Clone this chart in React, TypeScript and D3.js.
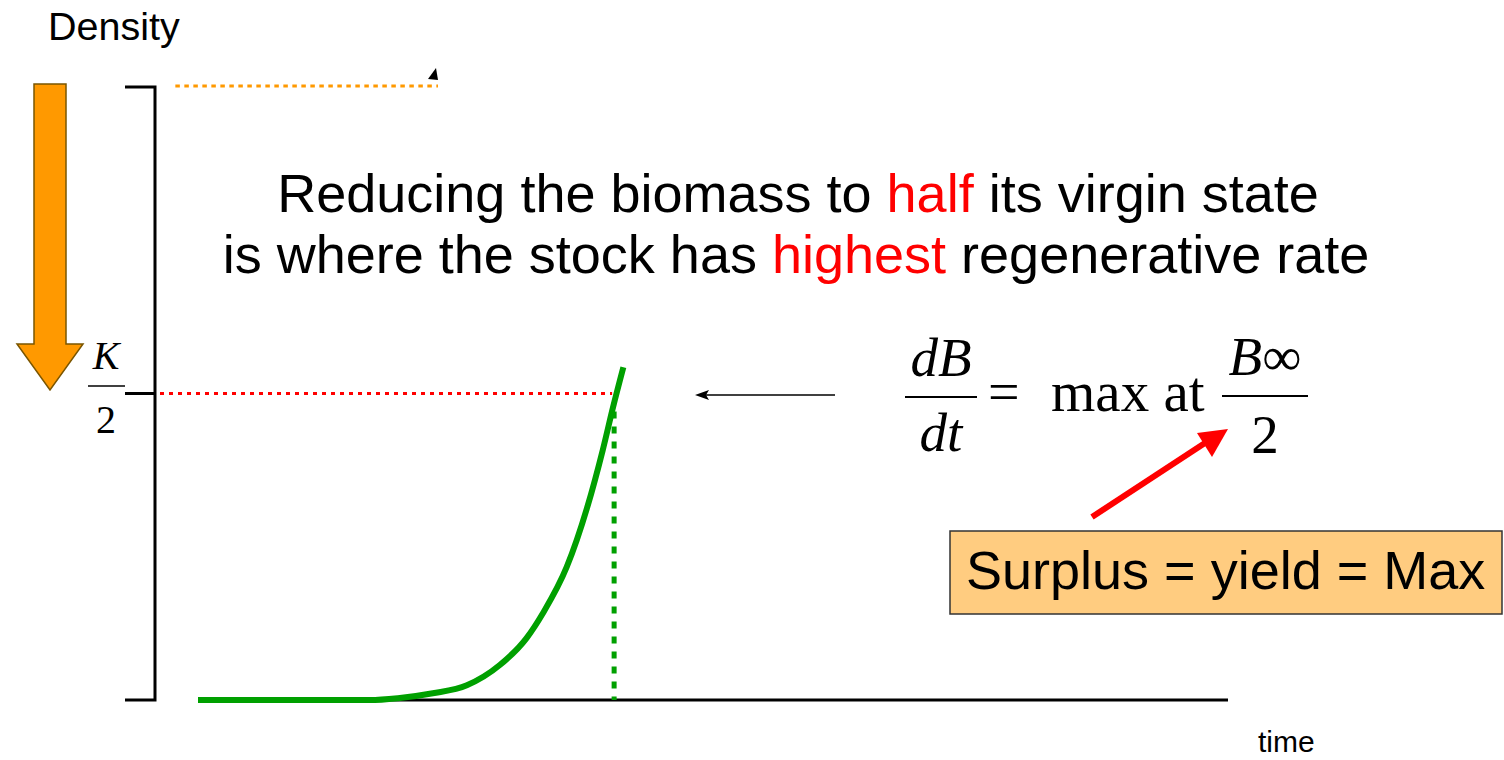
import React from "react";
import * as d3 from "d3";

// Growth curve (time, density); K = 1000
const curveTime = [0, 16.7, 19.4, 22.8, 26.1, 29.3, 31.9, 33.5, 35.8, 37.8, 39.3, 40.3, 41.3];
const curveDensity = [0, 0, 3, 11, 24, 57, 101, 142, 217, 315, 408, 478, 543];

const K = 1000;
const halfK = K / 2;
const halfTime = 40.4;
const timeDomain = [0, 100];

const headingLine1 = [
  { t: "Reducing the biomass to ", red: false },
  { t: "half", red: true },
  { t: " its virgin state", red: false },
];
const headingLine2 = [
  { t: "is where the stock has ", red: false },
  { t: "highest", red: true },
  { t: " regenerative rate", red: false },
];

export default function App() {
  const x = d3.scaleLinear().domain(timeDomain).range([198, 1228]);
  const y = d3.scaleLinear().domain([0, K]).range([700, 87]);
  const pts = curveTime.map((t, i) => [t, curveDensity[i]] as [number, number]);
  const line = d3
    .line<[number, number]>()
    .x((d) => x(d[0]))
    .y((d) => y(d[1]))
    .curve(d3.curveMonotoneX);

  const sans = "'Liberation Sans', Arial, sans-serif";
  const serif = "'Liberation Serif', 'Times New Roman', serif";
  const axisX = 155;

  return (
    <svg
      width={1504}
      height={760}
      style={{ position: "absolute", left: 0, top: 0, background: "#fff" }}
    >
      {/* Density label */}
      <text x={48} y={40} fontFamily={sans} fontSize={39.5} fill="#000">
        Density
      </text>

      {/* Orange big arrow */}
      <polygon
        points="34,84 66,84 66,344 83,344 50,390 17,344 34,344"
        fill="#FF9900"
        stroke="#7a5500"
        strokeWidth={1.5}
      />

      {/* Y axis bracket */}
      <path
        d={`M125,${y(K)} L${axisX},${y(K)} L${axisX},${y(0)} L125,${y(0)}`}
        fill="none"
        stroke="#000"
        strokeWidth={3}
      />
      <line x1={125} x2={axisX} y1={y(halfK)} y2={y(halfK)} stroke="#000" strokeWidth={3} />

      {/* K/2 label */}
      <text x={106} y={369} fontFamily={serif} fontStyle="italic" fontSize={40} textAnchor="middle">
        K
      </text>
      <line x1={88} x2={125} y1={386} y2={386} stroke="#000" strokeWidth={1.5} />
      <text x={106} y={433} fontFamily={serif} fontSize={40} textAnchor="middle">
        2
      </text>

      {/* orange dotted at K */}
      <line
        x1={x(-2.2)}
        x2={x(23.3)}
        y1={y(K) - 1}
        y2={y(K) - 1}
        stroke="#FF9900"
        strokeWidth={3}
        strokeDasharray="4.5,4.5"
      />
      <polygon points="428,79 438,80 436,68" fill="#000" />

      {/* red dotted at K/2 */}
      <line
        x1={160}
        x2={x(halfTime) - 2}
        y1={y(halfK)}
        y2={y(halfK)}
        stroke="#FF0000"
        strokeWidth={3}
        strokeDasharray="4,5"
      />

      {/* x axis */}
      <line x1={x(0)} x2={x(100)} y1={y(0)} y2={y(0)} stroke="#000" strokeWidth={3} />

      {/* green dotted vertical */}
      <line
        x1={x(halfTime)}
        x2={x(halfTime)}
        y1={y(halfK) + 18}
        y2={y(0)}
        stroke="#00A000"
        strokeWidth={5}
        strokeDasharray="7,8"
      />

      {/* growth curve */}
      <path d={line(pts) || ""} fill="none" stroke="#00A000" strokeWidth={6} />

      {/* time label */}
      <text x={1258} y={752} fontFamily={sans} fontSize={30}>
        time
      </text>

      {/* heading */}
      <text x={798} y={212} fontFamily={sans} fontSize={54} textAnchor="middle">
        {headingLine1.map((s, i) => (
          <tspan key={i} fill={s.red ? "#FF0000" : "#000"}>
            {s.t}
          </tspan>
        ))}
      </text>
      <text x={796} y={273} fontFamily={sans} fontSize={54} textAnchor="middle">
        {headingLine2.map((s, i) => (
          <tspan key={i} fill={s.red ? "#FF0000" : "#000"}>
            {s.t}
          </tspan>
        ))}
      </text>

      {/* black arrow */}
      <line x1={835} x2={705} y1={395} y2={395} stroke="#000" strokeWidth={1.5} />
      <polygon points="695,395 709,390 706,395 709,400" fill="#000" />

      {/* equation */}
      <text x={941} y={376} fontFamily={serif} fontStyle="italic" fontSize={55} textAnchor="middle">
        dB
      </text>
      <line x1={905} x2={977} y1={397} y2={397} stroke="#000" strokeWidth={2} />
      <text x={941} y={451} fontFamily={serif} fontStyle="italic" fontSize={55} textAnchor="middle">
        dt
      </text>
      <text x={988} y={411} fontFamily={serif} fontSize={56}>
        =
      </text>
      <text x={1051} y={411} fontFamily={serif} fontSize={57}>
        max at
      </text>
      <text x={1265} y={375} fontFamily={serif} fontSize={55} textAnchor="middle">
        <tspan fontStyle="italic">B</tspan>
        <tspan>∞</tspan>
      </text>
      <line x1={1222} x2={1308} y1={396} y2={396} stroke="#000" strokeWidth={2} />
      <text x={1265} y={453} fontFamily={serif} fontSize={55} textAnchor="middle">
        2
      </text>

      {/* red arrow */}
      <line x1={1092} x2={1208} y1={517} y2={441} stroke="#FF0000" strokeWidth={6} />
      <polygon points="1228,429 1197,433 1212,457" fill="#FF0000" />

      {/* box */}
      <rect x={950} y={531} width={552} height={83} fill="#FFCC80" stroke="#333" strokeWidth={1.5} />
      <text x={966} y={589} fontFamily={sans} fontSize={54}>
        Surplus = yield = Max
      </text>
    </svg>
  );
}
